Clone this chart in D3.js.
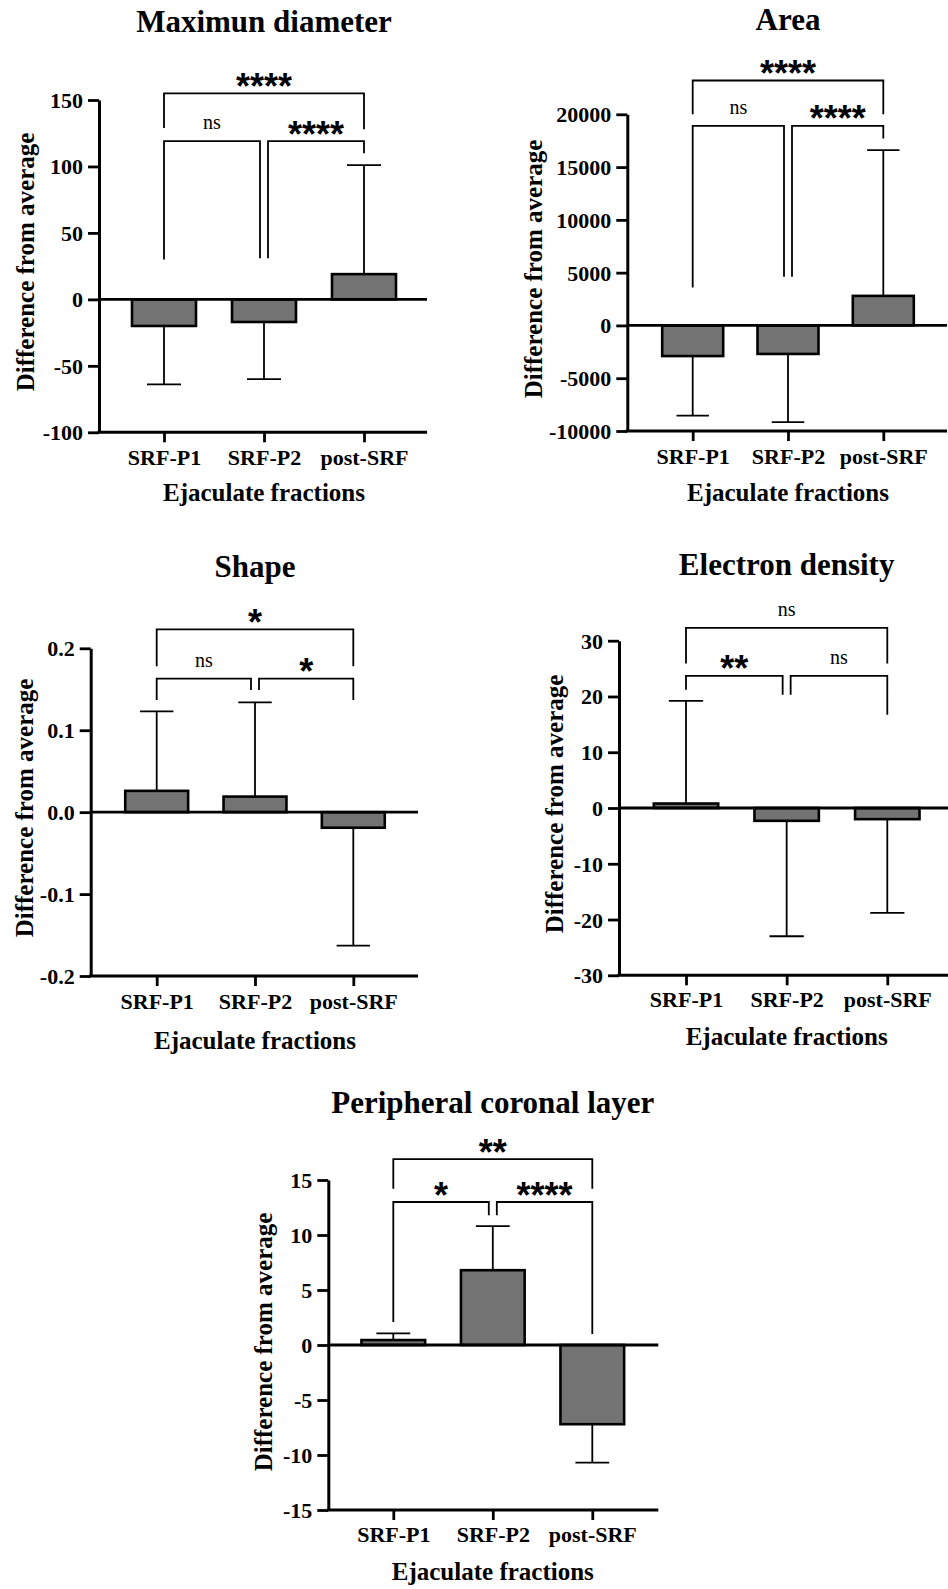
<!DOCTYPE html>
<html>
<head>
<meta charset="utf-8">
<script src="https://cdn.jsdelivr.net/npm/d3@7"></script>
<style>
  html, body { margin: 0; padding: 0; background: #fff; }
  svg { display: block; }
</style>
</head>
<body>
<svg id="chart" width="948" height="1589"></svg>
<script>
// ---------- DATA ----------
const categories = ["SRF-P1", "SRF-P2", "post-SRF"];

const diameterMean = [-20, -17, 19];
const diameterErr  = [-64, -60, 101];
const diameterTicks = [-100, -50, 0, 50, 100, 150];
// [label, from, to, bracket level, left leg end, right leg end]
const diameterBrackets = [
  ["ns",   0, 1, 119, 30, 31],
  ["****", 1, 2, 119, 31, 110],
  ["****", 0, 2, 155, 129, 128]
];

const areaMean = [-2900, -2700, 2800];
const areaErr  = [-8550, -9150, 16600];
const areaTicks = [-10000, -5000, 0, 5000, 10000, 15000, 20000];
const areaBrackets = [
  ["ns",   0, 1, 18900, 3600, 4600],
  ["****", 1, 2, 18900, 4600, 17700],
  ["****", 0, 2, 23200, 20000, 20000]
];

const shapeMean = [0.026, 0.019, -0.019];
const shapeErr  = [0.123, 0.134, -0.163];
const shapeTicks = [-0.2, -0.1, 0.0, 0.1, 0.2];
const shapeBrackets = [
  ["ns", 0, 1, 0.163, 0.137, 0.149],
  ["*",  1, 2, 0.163, 0.149, 0.137],
  ["*",  0, 2, 0.223, 0.178, 0.178]
];

const densityMean = [0.8, -2.3, -2.0];
const densityErr  = [19.2, -23.0, -18.8];
const densityTicks = [-30, -20, -10, 0, 10, 20, 30];
const densityBrackets = [
  ["**", 0, 1, 23.7, 21.2, 20.3],
  ["ns", 1, 2, 23.7, 20.3, 16.7],
  ["ns", 0, 2, 32.3, 25.9, 25.9]
];

const coronalMean = [0.45, 6.8, -7.2];
const coronalErr  = [1.06, 10.8, -10.7];
const coronalTicks = [-15, -10, -5, 0, 5, 10, 15];
const coronalBrackets = [
  ["*",    0, 1, 13.0, 2.1, 11.8],
  ["****", 1, 2, 13.0, 11.8, 1.0],
  ["**",   0, 2, 16.9, 14.2, 14.2]
];

const titles = ["Maximun diameter", "Area", "Shape", "Electron density", "Peripheral coronal layer"];
const yLabel = "Difference from average";
const xLabel = "Ejaculate fractions";

// ---------- LAYOUT ----------
const intFmt = d => String(d);
const decFmt = d => d.toFixed(1);

const panels = [
  { title: titles[0], mean: diameterMean, err: diameterErr, ticks: diameterTicks, br: diameterBrackets, fmt: intFmt,
    L: { ax: 99, yTop: 100, yBot: 432.3, c0: 164, c2: 364, right: 427, titleY: 32, ylabX: 34, ylabY: 262, tickY: 465, xlabY: 501 } },
  { title: titles[1], mean: areaMean, err: areaErr, ticks: areaTicks, br: areaBrackets, fmt: intFmt,
    L: { ax: 627.3, yTop: 114.3, yBot: 431, c0: 692.7, c2: 883.3, right: 947, titleY: 30, ylabX: 542, ylabY: 269, tickY: 464, xlabY: 501 } },
  { title: titles[2], mean: shapeMean, err: shapeErr, ticks: shapeTicks, br: shapeBrackets, fmt: decFmt,
    L: { ax: 90.7, yTop: 648.3, yBot: 976, c0: 156.7, c2: 353.3, right: 418, titleY: 577, ylabX: 33, ylabY: 808, tickY: 1009, xlabY: 1049 } },
  { title: titles[3], mean: densityMean, err: densityErr, ticks: densityTicks, br: densityBrackets, fmt: intFmt,
    L: { ax: 619, yTop: 640.7, yBot: 975.3, c0: 686, c2: 887.3, right: 948, titleY: 575, ylabX: 563, ylabY: 804, tickY: 1007, xlabY: 1045 } },
  { title: titles[4], mean: coronalMean, err: coronalErr, ticks: coronalTicks, br: coronalBrackets, fmt: intFmt,
    L: { ax: 328.3, yTop: 1180, yBot: 1510, c0: 393.3, c2: 592.3, right: 658.3, titleY: 1113, ylabX: 271.5, ylabY: 1342, tickY: 1542, xlabY: 1580 } }
];

const FONT = "'Liberation Serif', 'Times New Roman', serif";
const STARFONT = "'Liberation Sans', Arial, sans-serif";
const svg = d3.select("#chart");

panels.forEach(p => {
  const L = p.L;
  const g = svg.append("g");
  const y = d3.scaleLinear().domain([d3.min(p.ticks), d3.max(p.ticks)]).range([L.yBot, L.yTop]);
  const x = d3.scalePoint().domain(categories).range([L.c0, L.c2]);
  const step = x.step();
  const bw = step * 0.64;
  const capHalf = step * 0.17;
  const cx = x(categories[1]);

  // title
  g.append("text").attr("x", cx).attr("y", L.titleY)
    .attr("text-anchor", "middle").attr("font-family", FONT).attr("font-weight", "bold")
    .attr("font-size", 31).attr("fill", "#000").text(p.title);

  // y label
  g.append("text").attr("transform", `translate(${L.ylabX},${L.ylabY}) rotate(-90)`)
    .attr("text-anchor", "middle").attr("font-family", FONT).attr("font-weight", "bold")
    .attr("font-size", 25).attr("fill", "#000").text(yLabel);

  // x label
  g.append("text").attr("x", cx).attr("y", L.xlabY)
    .attr("text-anchor", "middle").attr("font-family", FONT).attr("font-weight", "bold")
    .attr("font-size", 25).attr("fill", "#000").text(xLabel);

  // error bars
  p.mean.forEach((m, i) => {
    const xc = x(categories[i]);
    g.append("line").attr("x1", xc).attr("x2", xc).attr("y1", y(m)).attr("y2", y(p.err[i]))
      .attr("stroke", "#000").attr("stroke-width", 1.8);
    g.append("line").attr("x1", xc - capHalf).attr("x2", xc + capHalf)
      .attr("y1", y(p.err[i])).attr("y2", y(p.err[i]))
      .attr("stroke", "#000").attr("stroke-width", 1.8);
  });

  // bars
  g.selectAll("rect.bar").data(p.mean).join("rect").attr("class", "bar")
    .attr("x", (d, i) => x(categories[i]) - bw / 2)
    .attr("y", d => Math.min(y(0), y(d)))
    .attr("width", bw)
    .attr("height", d => Math.abs(y(d) - y(0)))
    .attr("fill", "#737373").attr("stroke", "#000").attr("stroke-width", 2.6);

  // zero line
  g.append("line").attr("x1", L.ax).attr("x2", L.right).attr("y1", y(0)).attr("y2", y(0))
    .attr("stroke", "#000").attr("stroke-width", 2.8);

  // y axis
  const yAxis = d3.axisLeft(y).tickValues(p.ticks).tickFormat(p.fmt).tickSize(11).tickSizeOuter(0).tickPadding(5);
  const ya = g.append("g").attr("transform", `translate(${L.ax},0)`).call(yAxis);
  ya.select(".domain").attr("stroke", "#000").attr("stroke-width", 3);
  ya.selectAll(".tick line").attr("stroke", "#000").attr("stroke-width", 2.8);
  ya.selectAll(".tick text").attr("font-family", FONT).attr("font-weight", "bold")
    .attr("font-size", 22).attr("fill", "#000").attr("dy", "0.34em");

  // x axis
  const xAxis = d3.axisBottom(x).tickSize(10).tickSizeOuter(0).tickPadding(0);
  const xa = g.append("g").attr("transform", `translate(0,${L.yBot})`).call(xAxis);
  xa.select(".domain").remove();
  xa.selectAll(".tick line").attr("stroke", "#000").attr("stroke-width", 2.8);
  xa.selectAll(".tick text").attr("font-family", FONT).attr("font-weight", "bold")
    .attr("font-size", 22).attr("fill", "#000").attr("dy", null).attr("y", L.tickY - L.yBot);
  g.append("line").attr("x1", L.ax - 1.5).attr("x2", L.right).attr("y1", L.yBot).attr("y2", L.yBot)
    .attr("stroke", "#000").attr("stroke-width", 3);

  // significance brackets
  p.br.forEach(([label, a, b, lvl, la, lb]) => {
    let xa0 = x(categories[a]), xb0 = x(categories[b]);
    if (a === 1) xa0 += 4;
    if (b === 1) xb0 -= 4;
    const yl = y(lvl);
    g.append("path")
      .attr("d", `M${xa0},${y(la)}V${yl}H${xb0}V${y(lb)}`)
      .attr("fill", "none").attr("stroke", "#000").attr("stroke-width", 1.8);
    const mx = (xa0 + xb0) / 2;
    if (label === "ns") {
      g.append("text").attr("x", mx).attr("y", yl - 12).attr("text-anchor", "middle")
        .attr("font-family", FONT).attr("font-size", 20).attr("fill", "#000").text(label);
    } else {
      g.append("text").attr("x", mx).attr("y", yl + 5.5).attr("text-anchor", "middle")
        .attr("font-family", STARFONT).attr("font-weight", "bold")
        .attr("font-size", 36).attr("fill", "#000").text(label);
    }
  });
});
</script>
</body>
</html>
